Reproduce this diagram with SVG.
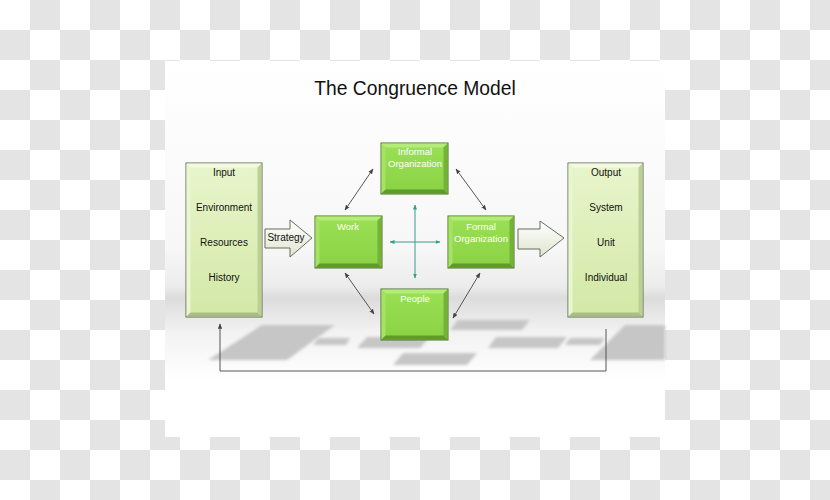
<svg xmlns="http://www.w3.org/2000/svg" width="830" height="500" viewBox="0 0 830 500">
<defs>
  <pattern id="checker" x="0" y="0" width="60" height="60" patternUnits="userSpaceOnUse">
    <rect width="60" height="60" fill="#ffffff"/>
    <rect x="30" y="0" width="30" height="30" fill="#e4e4e4"/>
    <rect x="0" y="30" width="30" height="30" fill="#e4e4e4"/>
  </pattern>
  <linearGradient id="floor" x1="0" y1="61" x2="0" y2="437" gradientUnits="userSpaceOnUse">
    <stop offset="0" stop-color="#ffffff"/>
    <stop offset="0.5" stop-color="#f7f7f7"/>
    <stop offset="0.6" stop-color="#ececec"/>
    <stop offset="0.63" stop-color="#dcdcdc"/>
    <stop offset="0.72" stop-color="#f2f2f2"/>
    <stop offset="0.85" stop-color="#ffffff"/>
    <stop offset="1" stop-color="#ffffff"/>
  </linearGradient>
  <linearGradient id="green" x1="0" y1="0" x2="0" y2="1">
    <stop offset="0" stop-color="#9be056"/>
    <stop offset="1" stop-color="#8ad244"/>
  </linearGradient>
  <linearGradient id="pale" x1="0" y1="0" x2="0" y2="1">
    <stop offset="0" stop-color="#e8f5cc"/>
    <stop offset="1" stop-color="#d3e8a6"/>
  </linearGradient>
  <linearGradient id="arrowfill" x1="0" y1="0" x2="0" y2="1">
    <stop offset="0" stop-color="#ffffff"/>
    <stop offset="1" stop-color="#dfe5cf"/>
  </linearGradient>
  <filter id="blur" x="-20%" y="-50%" width="140%" height="200%">
    <feGaussianBlur stdDeviation="1.5"/>
  </filter>
  <marker id="ah" viewBox="0 0 10 10" refX="9" refY="5" markerWidth="6" markerHeight="6" orient="auto-start-reverse">
    <path d="M0,1 L10,5 L0,9 z" fill="#444"/>
  </marker>
  <marker id="aht" viewBox="0 0 10 10" refX="9" refY="5" markerWidth="5" markerHeight="5" orient="auto-start-reverse">
    <path d="M0,1 L10,5 L0,9 z" fill="#3a9c86"/>
  </marker>
</defs>
<style>
  .t{font-family:"Liberation Sans",Arial,sans-serif;text-anchor:middle}
  .lbl{font-size:10px;fill:#111}
  .wl{font-size:9.5px;fill:#ffffff}
  .gbox{fill:url(#green);stroke:#4f6e28;stroke-width:1}
  .gt{fill:#b4ec7a}
  .gl{fill:#a6e266}
  .gr{fill:#74b23a}
  .gb{fill:#5e9a2c}
  .pbox{fill:url(#pale);stroke:#5f6a50;stroke-width:1}
  .pt{fill:#f3fae2}
  .pl{fill:#eaf5d2}
  .pr{fill:#bccf96}
  .pb{fill:#a9bd84}
  .conn{stroke:#444;stroke-width:0.9;fill:none}
  .teal{stroke:#3a9c86;stroke-width:1;fill:none}
  .shadow{fill:#c6c6c6;filter:url(#blur)}
  .blk{fill:url(#arrowfill);stroke:#6b6b5a;stroke-width:1}
</style>

<rect width="830" height="500" fill="url(#checker)"/>
<rect x="165" y="61" width="500" height="376" fill="url(#floor)"/>

<g id="shadows">
  <polygon class="shadow" points="262,325 335,325 287,360 208,360"/>
  <polygon class="shadow" points="318,338 350,338 346,345 313,345"/>
  <polygon class="shadow" points="367,337 430,337 420,348 357,348"/>
  <polygon class="shadow" points="458,320 530,320 522,330 450,330"/>
  <polygon class="shadow" points="496,337 567,337 558,348 488,348"/>
  <polygon class="shadow" points="570,338 605,338 600,345 565,345"/>
  <polygon class="shadow" points="625,325 665,325 665,360 590,360"/>
  <polygon class="shadow" points="403,353 477,353 467,365 393,365"/>
</g>

<text class="t" x="415" y="95" font-size="19.3" fill="#111">The Congruence Model</text>

<g id="connectors">
  <line class="conn" x1="345" y1="210" x2="373" y2="169" marker-start="url(#ah)" marker-end="url(#ah)"/>
  <line class="conn" x1="456" y1="169" x2="486" y2="210" marker-start="url(#ah)" marker-end="url(#ah)"/>
  <line class="conn" x1="345" y1="273" x2="374" y2="314" marker-start="url(#ah)" marker-end="url(#ah)"/>
  <line class="conn" x1="480" y1="273" x2="453" y2="318" marker-start="url(#ah)" marker-end="url(#ah)"/>
  <line class="teal" x1="390" y1="242" x2="440" y2="242" marker-start="url(#aht)" marker-end="url(#aht)"/>
  <line class="teal" x1="415" y1="205" x2="415" y2="278" marker-start="url(#aht)" marker-end="url(#aht)"/>
  <polyline class="conn" points="606,329 606,371 220,371 220,324" marker-end="url(#ah)"/>
</g>

<g id="input">
  <rect class="pbox" x="186" y="163" width="76" height="154"/>
  <polygon class="pt" points="186.5,163.5 261.5,163.5 257.5,167.5 190.5,167.5"/>
  <polygon class="pl" points="186.5,163.5 190.5,167.5 190.5,312.5 186.5,316.5"/>
  <polygon class="pr" points="261.5,163.5 257.5,167.5 257.5,312.5 261.5,316.5"/>
  <polygon class="pb" points="186.5,316.5 261.5,316.5 257.5,312.5 190.5,312.5"/>
  <text class="t lbl" x="224" y="176">Input</text>
  <text class="t lbl" x="224" y="211">Environment</text>
  <text class="t lbl" x="224" y="246">Resources</text>
  <text class="t lbl" x="224" y="281">History</text>
</g>

<g id="strategy">
  <polygon class="blk" points="265,229 290,229 290,220 312,238 290,257 290,248 265,248"/>
  <text class="t lbl" x="286" y="241" font-size="9.5">Strategy</text>
</g>

<g id="work">
  <rect class="gbox" x="315" y="216" width="67" height="52"/>
  <polygon class="gt" points="315.5,216.5 381.5,216.5 377.5,220.5 319.5,220.5"/>
  <polygon class="gl" points="315.5,216.5 319.5,220.5 319.5,263.5 315.5,267.5"/>
  <polygon class="gr" points="381.5,216.5 377.5,220.5 377.5,263.5 381.5,267.5"/>
  <polygon class="gb" points="315.5,267.5 381.5,267.5 377.5,263.5 319.5,263.5"/>
  <text class="t wl" x="348" y="230">Work</text>
</g>

<g id="informal">
  <rect class="gbox" x="381" y="143" width="67" height="51"/>
  <polygon class="gt" points="381.5,143.5 447.5,143.5 443.5,147.5 385.5,147.5"/>
  <polygon class="gl" points="381.5,143.5 385.5,147.5 385.5,189.5 381.5,193.5"/>
  <polygon class="gr" points="447.5,143.5 443.5,147.5 443.5,189.5 447.5,193.5"/>
  <polygon class="gb" points="381.5,193.5 447.5,193.5 443.5,189.5 385.5,189.5"/>
  <text class="t wl" x="415" y="155">Informal</text>
  <text class="t wl" x="415" y="167">Organization</text>
</g>

<g id="formal">
  <rect class="gbox" x="448" y="216" width="66" height="52"/>
  <polygon class="gt" points="448.5,216.5 513.5,216.5 509.5,220.5 452.5,220.5"/>
  <polygon class="gl" points="448.5,216.5 452.5,220.5 452.5,263.5 448.5,267.5"/>
  <polygon class="gr" points="513.5,216.5 509.5,220.5 509.5,263.5 513.5,267.5"/>
  <polygon class="gb" points="448.5,267.5 513.5,267.5 509.5,263.5 452.5,263.5"/>
  <text class="t wl" x="481" y="230">Formal</text>
  <text class="t wl" x="481" y="242">Organization</text>
</g>

<g id="people">
  <rect class="gbox" x="381" y="289" width="67" height="51"/>
  <polygon class="gt" points="381.5,289.5 447.5,289.5 443.5,293.5 385.5,293.5"/>
  <polygon class="gl" points="381.5,289.5 385.5,293.5 385.5,335.5 381.5,339.5"/>
  <polygon class="gr" points="447.5,289.5 443.5,293.5 443.5,335.5 447.5,339.5"/>
  <polygon class="gb" points="381.5,339.5 447.5,339.5 443.5,335.5 385.5,335.5"/>
  <text class="t wl" x="415" y="302">People</text>
</g>

<g id="output-arrow">
  <polygon class="blk" points="518,229 540,229 540,221 564,238 540,257 540,249 518,249"/>
</g>

<g id="output">
  <rect class="pbox" x="568" y="163" width="75" height="154"/>
  <polygon class="pt" points="568.5,163.5 642.5,163.5 638.5,167.5 572.5,167.5"/>
  <polygon class="pl" points="568.5,163.5 572.5,167.5 572.5,312.5 568.5,316.5"/>
  <polygon class="pr" points="642.5,163.5 638.5,167.5 638.5,312.5 642.5,316.5"/>
  <polygon class="pb" points="568.5,316.5 642.5,316.5 638.5,312.5 572.5,312.5"/>
  <text class="t lbl" x="606" y="176">Output</text>
  <text class="t lbl" x="606" y="211">System</text>
  <text class="t lbl" x="606" y="246">Unit</text>
  <text class="t lbl" x="606" y="281">Individual</text>
</g>
</svg>
